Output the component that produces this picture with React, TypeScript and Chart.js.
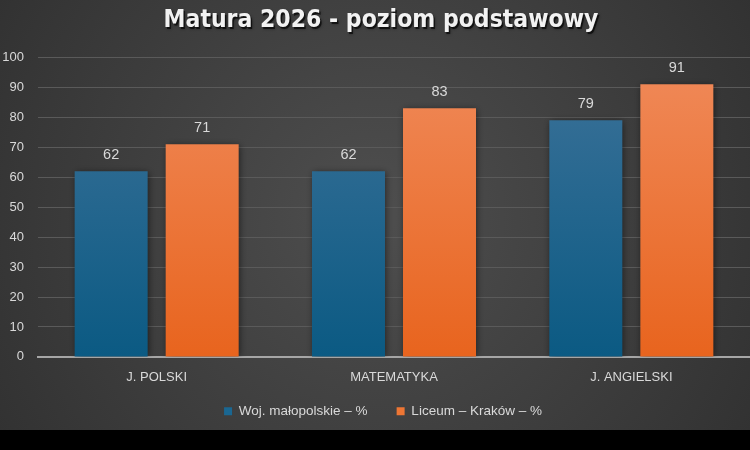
import React, { useEffect, useRef } from "react";
import { Chart, registerables } from "chart.js";

Chart.register(...registerables);

const categories = ["J. POLSKI", "MATEMATYKA", "J. ANGIELSKI"];
const seriesNames = ["Woj. małopolskie – %", "Liceum – Kraków – %"];
const wojValues = [62, 62, 79];
const liceumValues = [71, 83, 91];
const titleText = "Matura 2026 - poziom podstawowy";

const FONT = "'Liberation Sans', Arial, sans-serif";
const TITLE_FONT = "'DejaVu Sans Condensed', 'DejaVu Sans', sans-serif";
const TEXT = "#d9d9d9";
const TITLE_SIZE = 24.5;

function vertGrad(chart: any, top: string, bottom: string) {
  const { ctx, chartArea } = chart;
  if (!chartArea) return top;
  const g = ctx.createLinearGradient(0, chartArea.top, 0, chartArea.bottom);
  g.addColorStop(0, top);
  g.addColorStop(1, bottom);
  return g;
}

const bgPlugin = {
  id: "bg",
  afterLayout(chart: any) {
    const lg = chart.legend;
    if (lg) {
      lg.left += 8;
      lg.right += 8;
    }
  },
  beforeDraw(chart: any) {
    const { ctx, width, height } = chart;
    ctx.save();
    const g = ctx.createRadialGradient(width / 2, height / 2, 20, width / 2, height / 2, width * 0.62);
    g.addColorStop(0, "#4d4d4d");
    g.addColorStop(1, "#303030");
    ctx.fillStyle = g;
    ctx.fillRect(0, 0, width, height);
    ctx.restore();
  },
};

const titleDrawPlugin = {
  id: "titleDraw",
  afterDraw(chart: any) {
    const { ctx, width } = chart;
    const tb = chart.titleBlock;
    if (!tb) return;
    ctx.save();
    ctx.font = `bold ${TITLE_SIZE}px ${TITLE_FONT}`;
    ctx.textAlign = "center";
    ctx.textBaseline = "middle";
    const cx = width / 2 + 6;
    const cy = tb.top + 6 + (TITLE_SIZE * 1.2) / 2;
    ctx.fillStyle = "rgba(0,0,0,0.6)";
    ctx.shadowColor = "rgba(0,0,0,0.7)";
    ctx.shadowBlur = 3;
    ctx.fillText(titleText, cx + 1.5, cy + 2);
    ctx.shadowColor = "transparent";
    ctx.shadowBlur = 0;
    ctx.fillStyle = "#f2f2f2";
    ctx.fillText(titleText, cx, cy);
    ctx.restore();
  },
};

const shadowPlugin = {
  id: "barShadow",
  beforeDatasetsDraw(chart: any) {
    const ctx = chart.ctx;
    ctx.save();
    ctx.shadowColor = "rgba(0,0,0,0.55)";
    ctx.shadowBlur = 7;
    ctx.shadowOffsetX = 1;
    ctx.shadowOffsetY = 1;
  },
  afterDatasetsDraw(chart: any) {
    chart.ctx.restore();
  },
};

const labelPlugin = {
  id: "valueLabels",
  afterDraw(chart: any) {
    const ctx = chart.ctx;
    ctx.save();
    ctx.fillStyle = TEXT;
    ctx.font = `14.5px ${FONT}`;
    ctx.textAlign = "center";
    ctx.textBaseline = "bottom";
    chart.data.datasets.forEach((ds: any, i: number) => {
      const meta = chart.getDatasetMeta(i);
      meta.data.forEach((bar: any, j: number) => {
        ctx.fillText(String(ds.data[j]), bar.x, bar.y - 9);
      });
    });
    ctx.restore();
  },
};

export default function App() {
  const ref = useRef<HTMLCanvasElement | null>(null);
  useEffect(() => {
    document.body.style.margin = "0";
    const chart = new Chart(ref.current as HTMLCanvasElement, {
      type: "bar",
      data: {
        labels: categories,
        datasets: [
          {
            label: seriesNames[0],
            data: wojValues,
            backgroundColor: (c: any) => vertGrad(c.chart, "#3d7299", "#0b5a83"),
            borderWidth: 0,
          },
          {
            label: seriesNames[1],
            data: liceumValues,
            backgroundColor: (c: any) => vertGrad(c.chart, "#f08a5a", "#e8641e"),
            borderWidth: 0,
          },
        ],
      },
      options: {
        animation: false,
        responsive: false,
        maintainAspectRatio: false,
        layout: { padding: { left: 0, right: 0, top: 0, bottom: 2 } },
        datasets: {
          bar: { categoryPercentage: 0.767, barPercentage: 0.802 },
        },
        plugins: {
          title: {
            display: true,
            text: titleText,
            color: "rgba(0,0,0,0)",
            font: { family: TITLE_FONT, size: TITLE_SIZE, weight: "bold" },
            padding: { top: 6, bottom: 22 },
          },
          legend: {
            position: "bottom",
            labels: {
              color: TEXT,
              font: { family: FONT, size: 13.5 },
              boxWidth: 8,
              boxHeight: 8,
              padding: 14,
              generateLabels: (chart: any) =>
                chart.data.datasets.map((ds: any, i: number) => ({
                  text: i === 0 ? ds.label + "    " : ds.label,
                  fillStyle: i === 0 ? "#1a6792" : "#ee7634",
                  strokeStyle: "transparent",
                  lineWidth: 0,
                  fontColor: TEXT,
                  datasetIndex: i,
                })),
            },
          },
          tooltip: { enabled: false },
        },
        scales: {
          x: {
            grid: { display: false },
            border: { display: true, color: "#a6a6a6", width: 2 },
            ticks: { color: TEXT, font: { family: FONT, size: 13 }, padding: 5 },
          },
          y: {
            min: 0,
            max: 100,
            ticks: { stepSize: 10, color: TEXT, font: { family: FONT, size: 13 }, padding: 14 },
            grid: {
              color: (c: any) => (c.tick && c.tick.value === 0 ? "rgba(0,0,0,0)" : "#5a5a5a"),
              lineWidth: 1,
              drawTicks: false,
            },
            border: { display: false },
            afterFit: (scale: any) => {
              scale.width = 38;
            },
          },
        },
      },
      plugins: [bgPlugin, shadowPlugin, labelPlugin, titleDrawPlugin],
    } as any);
    return () => chart.destroy();
  }, []);
  return (
    <div style={{ width: 750, height: 450, background: "#000" }}>
      <canvas ref={ref} width={750} height={430} style={{ display: "block" }} />
    </div>
  );
}
